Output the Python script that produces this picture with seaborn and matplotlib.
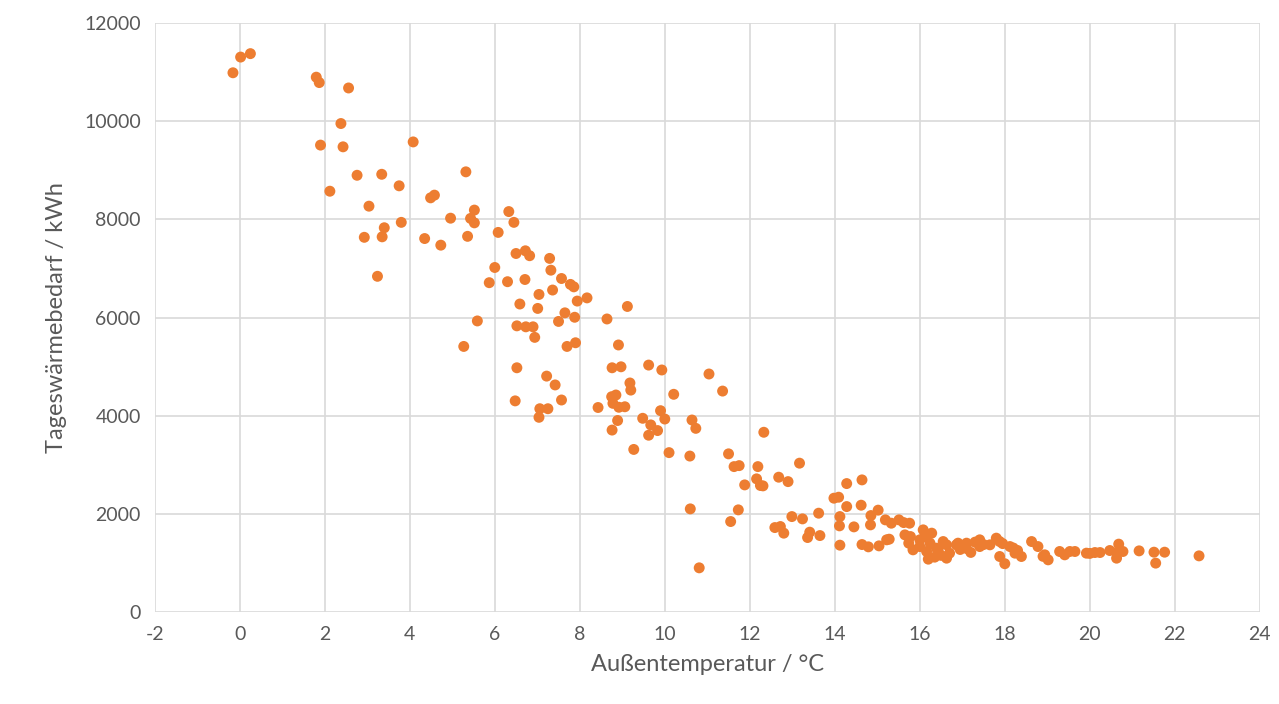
import matplotlib
matplotlib.use("Agg")
import matplotlib.pyplot as plt
import pandas as pd
import seaborn as sns

# Außentemperatur (°C) und Tageswärmebedarf (kWh)
temp = [
    -0.16, 0.02, 0.25, 1.8, 1.87, 2.56, 2.38, 1.9, 2.43, 4.08,
    2.76, 3.34, 3.75, 2.12, 3.04, 3.8, 3.4, 3.35, 2.93, 3.24,
    5.32, 4.49, 4.58, 5.52, 4.96, 5.43, 5.52, 6.33, 6.45, 4.35,
    4.73, 5.36, 6.08, 6.5, 6.72, 6.82, 7.29, 7.32, 6.0, 5.87,
    6.3, 6.71, 7.57, 7.78, 7.86, 7.94, 7.04, 7.36, 6.59, 7.01,
    7.65, 7.5, 7.88, 5.59, 6.52, 6.73, 6.9, 6.94, 7.7, 7.9,
    5.27, 6.52, 7.22, 8.17, 9.12, 8.64, 8.91, 8.76, 8.97, 9.62,
    9.18, 9.2, 8.75, 8.85, 8.78, 8.92, 9.06, 8.43, 8.89, 8.76,
    9.48, 7.42, 6.48, 7.57, 7.06, 7.25, 7.04, 11.04, 11.36, 9.93,
    10.21, 9.9, 10.0, 9.67, 9.83, 9.62, 10.64, 10.73, 9.27, 10.1,
    10.59, 11.5, 11.63, 11.75, 12.33, 12.19, 12.16, 12.25, 12.31, 11.88,
    12.68, 12.9, 13.17, 10.6, 11.73, 11.55, 12.99, 13.24, 12.59, 12.72,
    12.8, 13.36, 10.81, 14.28, 14.64, 13.98, 14.09, 14.28, 14.62, 13.62,
    14.12, 14.11, 14.45, 14.85, 15.02, 14.84, 13.41, 13.65, 14.12, 14.64,
    14.79, 15.04, 15.22, 15.19, 15.33, 15.51, 15.62, 15.76, 15.28, 15.65,
    15.78, 16.08, 16.28, 15.74, 15.84, 16.0, 16.16, 16.39, 16.63, 16.86,
    16.2, 16.35, 16.63, 16.0, 16.12, 16.24, 16.43, 16.55, 16.7, 16.5,
    16.9, 17.1, 17.41, 17.41, 17.65, 17.8, 17.88, 18.0, 18.12, 18.2,
    18.3, 17.88, 18.24, 18.39, 18.63, 18.78, 18.94, 19.02, 19.29, 19.41,
    19.53, 19.65, 19.92, 20.12, 20.47, 20.68, 20.63, 20.67, 20.78, 21.16,
    21.51, 21.76, 21.55, 22.57, 16.95, 17.1, 17.2, 17.3, 17.5, 17.95,
    20.0, 20.24, 18.9,
]
bedarf = [
    10990, 11310, 11380, 10900, 10790, 10680, 9955, 9515, 9480, 9580,
    8900, 8920, 8685, 8575, 8270, 7940, 7830, 7645, 7635, 6840,
    8970, 8440, 8495, 8190, 8025, 8020, 7930, 8160, 7940, 7610,
    7475, 7655, 7735, 7305, 7360, 7260, 7205, 6965, 7020, 6710,
    6730, 6775, 6795, 6675, 6625, 6335, 6470, 6560, 6275, 6185,
    6095, 5920, 6005, 5930, 5830, 5810, 5810, 5595, 5410, 5485,
    5410, 4975, 4805, 6400, 6225, 5970, 5440, 4975, 4995, 5030,
    4665, 4520, 4385, 4420, 4250, 4170, 4180, 4165, 3900, 3705,
    3945, 4625, 4300, 4318, 4140, 4140, 3965, 4848, 4500, 4930,
    4434, 4100, 3930, 3810, 3695, 3600, 3910, 3740, 3310, 3245,
    3175, 3220, 2960, 2980, 3660, 2960, 2710, 2575, 2567, 2587,
    2744, 2654, 3030, 2098, 2078, 1840, 1941, 1894, 1717, 1738,
    1603, 1514, 896, 2614, 2689, 2316, 2336, 2145, 2173, 2010,
    1941, 1752, 1731, 1962, 2072, 1772, 1623, 1554, 1358, 1371,
    1324, 1344, 1467, 1874, 1806, 1874, 1819, 1806, 1480, 1568,
    1534, 1670, 1603, 1399, 1263, 1330, 1229, 1297, 1365, 1365,
    1073, 1114, 1093, 1467, 1534, 1399, 1263, 1432, 1195, 1150,
    1399, 1399, 1467, 1330, 1365, 1501, 1127, 980, 1330, 1300,
    1250, 1432, 1195, 1127, 1432, 1330, 1161, 1059, 1229, 1161,
    1229, 1229, 1195, 1208, 1249, 1379, 1093, 1229, 1229, 1242,
    1215, 1215, 992, 1140, 1270, 1290, 1210, 1420, 1370, 1390,
    1190, 1208, 1130,
]
x_ticks = list(range(-2, 25, 2))
y_ticks = list(range(0, 12001, 2000))

df = pd.DataFrame({"temp": temp, "bedarf": bedarf})

sns.set_style("white")
plt.rcParams["font.family"] = ["Lato", "DejaVu Sans"]
plt.rcParams["axes.unicode_minus"] = False

fig = plt.figure(figsize=(12.79, 7.04), dpi=100)
ax = fig.add_axes([0.121, 0.131, 0.864, 0.836])

sns.scatterplot(data=df, x="temp", y="bedarf", ax=ax, color="#ED7D31",
                s=62, edgecolor="none", zorder=3)

ax.set_xlim(-2, 24)
ax.set_ylim(0, 12000)
ax.set_xticks(x_ticks)
ax.set_yticks(y_ticks)
ax.grid(True, color="#d9d9d9", linewidth=1.2)
ax.set_axisbelow(True)
for sp in ax.spines.values():
    sp.set_visible(False)
ax.tick_params(length=0, labelsize=14, labelcolor="#595959", pad=10)

ax.set_xlabel("Außentemperatur / °C", fontsize=17, color="#595959", labelpad=8)
ax.set_ylabel("Tageswärmebedarf / kWh", fontsize=17, color="#595959", labelpad=12)

fig.savefig("out.png", dpi=100)
